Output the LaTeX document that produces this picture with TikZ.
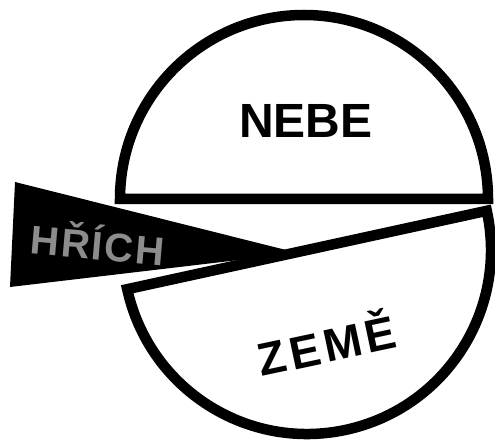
\documentclass[tikz,border=0pt]{standalone}
\usepackage{fontspec}
\setmainfont{Liberation Sans}
\usepackage{tikz}

\begin{document}
\begin{tikzpicture}[x=1pt, y=1pt,
    part/.style={line width=10.5pt, line join=miter, fill=white},
    word/.style={font=\bfseries\fontsize{46}{46}\selectfont, inner sep=0pt}]
  \useasboundingbox (0,0) rectangle (495,439);

  % Nebe (horni pulkruh)
  \draw[part] (120,240) arc[start angle=180, end angle=0, radius=184] -- cycle;
  \node[word, font=\bfseries\fontsize{48}{48}\selectfont] (nebe) at (306,318) {NEBE};

  % Zeme (dolni pulkruh, natoceny)
  \begin{scope}[shift={(307,189)}, rotate=12.3]
    \draw[part] (-184,0) arc[start angle=180, end angle=360, radius=184] -- cycle;
  \end{scope}
  \node[word, rotate=12] (zeme) at (326,97) {\addfontfeatures{LetterSpace=9}ZEMĚ};

  % Hrich (klin zleva)
  \fill[black] (15,257) -- (10,152) -- (298,186) -- cycle;
  \node[word, font=\bfseries\fontsize{40}{40}\selectfont, text=black!45, rotate=-5] (hrich) at (98,197) {\addfontfeatures{LetterSpace=5}HŘÍCH};
\end{tikzpicture}
\end{document}
